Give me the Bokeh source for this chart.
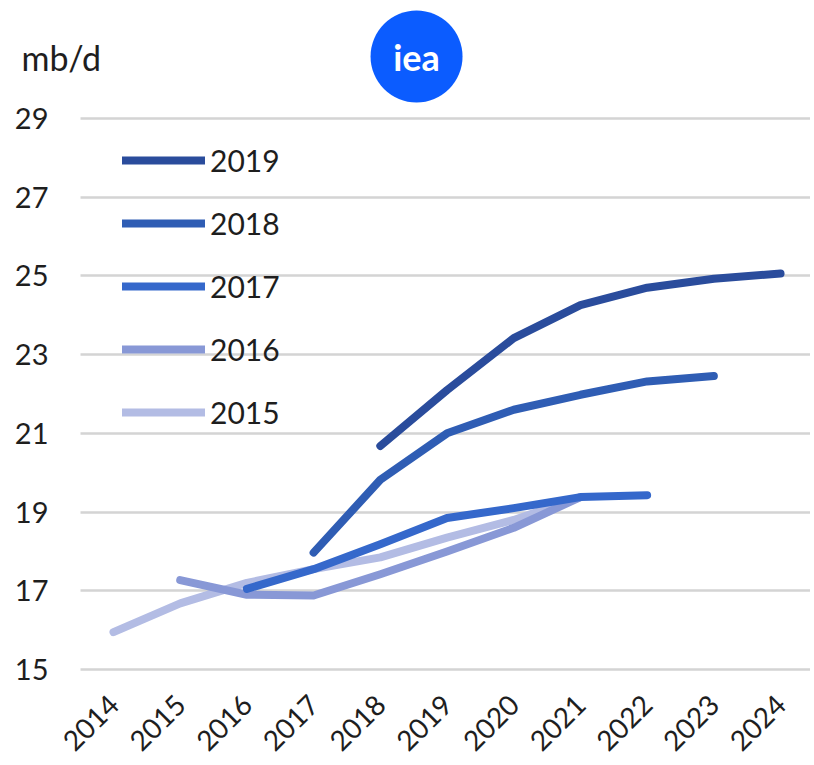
import math
from bokeh.plotting import figure
from bokeh.models import Range1d, FixedTicker, Legend, LegendItem, Label, Grid
from bokeh.core.properties import value
from bokeh.embed import file_html
from bokeh.resources import INLINE

# ---- data (mb/d) ----
years = [2014, 2015, 2016, 2017, 2018, 2019, 2020, 2021, 2022, 2023, 2024]

x_2015 = [2014, 2015, 2016, 2017, 2018, 2019, 2020, 2021]
v_2015 = [15.95, 16.68, 17.2, 17.55, 17.85, 18.35, 18.8, 19.38]

x_2016 = [2015, 2016, 2017, 2018, 2019, 2020, 2021]
v_2016 = [17.27, 16.9, 16.88, 17.42, 18.0, 18.6, 19.38]

x_2017 = [2016, 2017, 2018, 2019, 2020, 2021, 2022]
v_2017 = [17.05, 17.55, 18.18, 18.85, 19.1, 19.38, 19.43]

x_2018 = [2017, 2018, 2019, 2020, 2021, 2022, 2023]
v_2018 = [17.97, 19.82, 21.0, 21.6, 21.98, 22.32, 22.46]

x_2019 = [2018, 2019, 2020, 2021, 2022, 2023, 2024]
v_2019 = [20.68, 22.1, 23.42, 24.26, 24.7, 24.93, 25.06]

y_ticks = [15, 17, 19, 21, 23, 25, 27, 29]
unit_label = "mb/d"
logo_text = "iea"

series = [
    ("2019", x_2019, v_2019, "#2a4c9c"),
    ("2018", x_2018, v_2018, "#2f5db4"),
    ("2017", x_2017, v_2017, "#3568cb"),
    ("2016", x_2016, v_2016, "#8898d6"),
    ("2015", x_2015, v_2015, "#b3bce4"),
]

FONT = "Lato"
TXT = "#1e1e1e"

X0, X1 = 2013.505, 2024.449   # plotting area (category edges)
Y0 = 14.771                    # bottom edge of plotting area

p = figure(width=810, height=762, output_backend="svg", toolbar_location=None,
           x_range=Range1d(2012.306, X1), y_range=Range1d(12.637, 31.998),
           min_border_left=0, min_border_right=0, min_border_top=0,
           min_border_bottom=0)
p.outline_line_color = None
p.background_fill_color = "white"
p.border_fill_color = "white"

# y axis drawn at the left edge of the plotting area
p.yaxis.fixed_location = X0
p.yaxis.ticker = FixedTicker(ticks=y_ticks)
p.yaxis.axis_line_color = None
p.yaxis.major_tick_line_color = None
p.yaxis.minor_tick_line_color = None
p.yaxis.major_label_text_font = FONT
p.yaxis.major_label_text_font_size = "29px"
p.yaxis.major_label_text_color = TXT
p.yaxis.major_label_standoff = 26

# x axis drawn at the bottom edge of the plotting area
p.xaxis.fixed_location = Y0
p.xaxis.ticker = FixedTicker(ticks=years)
p.xaxis.axis_line_color = None
p.xaxis.major_tick_line_color = None
p.xaxis.minor_tick_line_color = None
p.xaxis.major_label_orientation = math.pi / 4
p.xaxis.major_label_text_font = FONT
p.xaxis.major_label_text_font_size = "28px"
p.xaxis.major_label_text_color = TXT
p.xaxis.major_label_standoff = 15

p.xgrid.grid_line_color = None
p.ygrid.ticker = FixedTicker(ticks=y_ticks)
p.ygrid.grid_line_color = "#d4d4d4"
p.ygrid.grid_line_width = 2.5
if "cross_bounds" in Grid.properties():
    p.ygrid.cross_bounds = (X0, X1)

renderers = {}
for name, xs, vs, col in series[::-1]:
    r = p.line(xs, vs, line_color=col, line_width=8, line_cap="round",
               line_join="round")
    renderers[name] = r

items = [LegendItem(label=name, renderers=[renderers[name]]) for name, *_ in series]
legend = Legend(items=items, location=(122, 332), glyph_width=83, glyph_height=30,
                label_height=30, spacing=27, padding=0, margin=0,
                label_standoff=5, label_text_font=FONT,
                label_text_font_size="30px", label_text_color=TXT,
                border_line_color=None, background_fill_alpha=0)
p.add_layout(legend)

# IEA logo
p.scatter(x=[2018.543], y=[30.575], size=92, marker="circle",
          fill_color="#0b5cff", line_color=None)
p.text(x=[2018.543], y=[30.56], text=[logo_text], text_font=value(FONT),
       text_font_style="bold", text_font_size="36px", text_color="white",
       text_align="center", text_baseline="middle")

# unit label
p.add_layout(Label(x=21, y=705, x_units="screen", y_units="screen",
                   text=unit_label, text_font=FONT,
                   text_font_size="34px", text_color=TXT,
                   text_baseline="alphabetic", text_align="left"))

open("out.html", "w").write(file_html(p, INLINE))
